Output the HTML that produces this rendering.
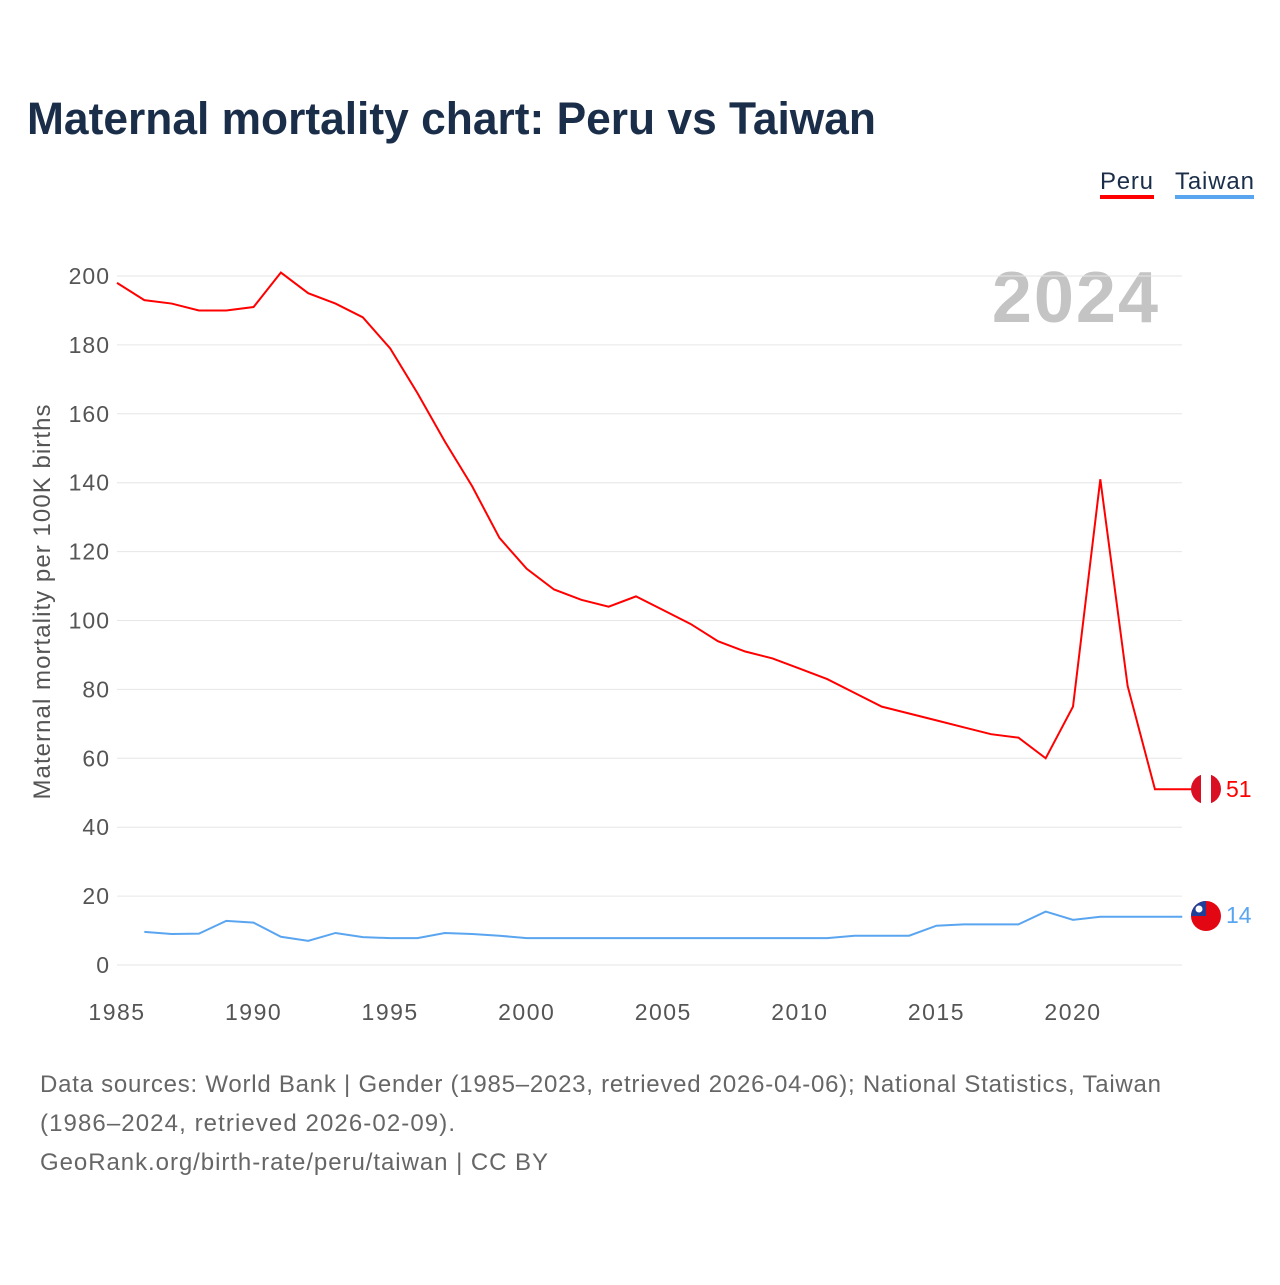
<!DOCTYPE html>
<html><head><meta charset="utf-8">
<style>
body{margin:0;background:#fff;font-family:"Liberation Sans",sans-serif;}
svg text{font-family:"Liberation Sans",sans-serif;}
</style></head>
<body>
<svg id="chart" width="1280" height="1280" xmlns="http://www.w3.org/2000/svg">
<text x="27" y="134" font-size="45" font-weight="bold" fill="#1a2e4a" textLength="849" lengthAdjust="spacingAndGlyphs">Maternal mortality chart: Peru vs Taiwan</text>
<g>
<text x="1100" y="189" font-size="24" fill="#1a2e4a" textLength="53">Peru</text>
<rect x="1100" y="195" width="54" height="4" fill="#ff0000"/>
<text x="1175" y="189" font-size="24" fill="#1a2e4a" textLength="79">Taiwan</text>
<rect x="1175" y="195" width="79" height="4" fill="#5aa5f0"/>
</g>
<text x="1160" y="322" font-size="72" font-weight="bold" fill="#c4c4c4" text-anchor="end" letter-spacing="2">2024</text>
<g id="grid"></g><g id="series"></g>
<text transform="translate(50,602) rotate(-90)" font-size="24" fill="#555" text-anchor="middle" textLength="395">Maternal mortality per 100K births</text>
<g>
<circle cx="1206" cy="789" r="15" fill="#d91023"/>
<rect x="1201" y="774" width="10" height="30" fill="#fff"/>
<text x="1226" y="797" font-size="23" fill="#ff0000">51</text>
</g>
<g>
<clipPath id="tc"><circle cx="1206" cy="916" r="15"/></clipPath>
<g clip-path="url(#tc)"><rect x="1190" y="900" width="32" height="32" fill="#e30613"/><rect x="1190" y="900" width="16" height="16" fill="#1f3f99"/><circle cx="1199" cy="909" r="3.5" fill="#fff"/></g>
<text x="1226" y="923" font-size="23" fill="#5aa5f0">14</text>
</g>
<text font-size="24" fill="#666">
<tspan x="40" y="1092" textLength="1121">Data sources: World Bank | Gender (1985–2023, retrieved 2026-04-06); National Statistics, Taiwan</tspan>
<tspan x="40" y="1131" textLength="415">(1986–2024, retrieved 2026-02-09).</tspan>
<tspan x="40" y="1170" textLength="508">GeoRank.org/birth-rate/peru/taiwan | CC BY</tspan>
</text>
</svg>
<script>
const yTicks=[0,20,40,60,80,100,120,140,160,180,200];
const xTicks=[1985,1990,1995,2000,2005,2010,2015,2020];
const peruYears=[1985,1986,1987,1988,1989,1990,1991,1992,1993,1994,1995,1996,1997,1998,1999,2000,2001,2002,2003,2004,2005,2006,2007,2008,2009,2010,2011,2012,2013,2014,2015,2016,2017,2018,2019,2020,2021,2022,2023];
const peruValues=[198,193,192,190,190,191,201,195,192,188,179,166,152,139,124,115,109,106,104,107,103,99,94,91,89,86,83,79,75,73,71,69,67,66,60,75,141,81,51];
const taiwanYears=[1986,1987,1988,1989,1990,1991,1992,1993,1994,1995,1996,1997,1998,1999,2000,2001,2002,2003,2004,2005,2006,2007,2008,2009,2010,2011,2012,2013,2014,2015,2016,2017,2018,2019,2020,2021,2022,2023,2024];
const taiwanValues=[9.6,9,9.1,12.8,12.3,8.2,7,9.3,8.1,7.8,7.8,9.3,9,8.5,7.8,7.8,7.8,7.8,7.8,7.8,7.8,7.8,7.8,7.8,7.8,7.8,8.5,8.5,8.5,11.4,11.8,11.8,11.8,15.5,13.1,14,14,14,14];
const NS="http://www.w3.org/2000/svg";
const x=yr=>117+(yr-1985)*(1073-117)/35;
const y=v=>965-v*(965-276)/200;
const grid=document.getElementById('grid'),series=document.getElementById('series');
function mk(tag,attrs,parent){const e=document.createElementNS(NS,tag);for(const k in attrs)e.setAttribute(k,attrs[k]);parent.appendChild(e);return e;}
yTicks.forEach(t=>{
 const l=mk('line',{x1:117,x2:1182,y1:y(t),y2:y(t),stroke:'#e6e6e6','stroke-width':1},grid);
 
 
 const tx=mk('text',{x:110,y:y(t)+8,'font-size':23,fill:'#555','text-anchor':'end','letter-spacing':1},grid);
 tx.textContent=t;
 
 
});
xTicks.forEach(t=>{
 const tx=mk('text',{x:x(t),y:1020,'font-size':23,fill:'#555','text-anchor':'middle','letter-spacing':1.5},grid);
 tx.textContent=t;
 
 
});
function pts(ys,vs){return ys.map((yr,i)=>x(yr)+','+y(vs[i])).join(' ');}
const pe=mk('polyline',{points:pts(peruYears,peruValues)+' '+x(2024)+','+y(peruValues[peruValues.length-1])+' 1195,'+y(peruValues[peruValues.length-1]),fill:'none',stroke:'#ff0000','stroke-width':2},series);


const tw=mk('polyline',{points:pts(taiwanYears,taiwanValues),fill:'none',stroke:'#5aa5f0','stroke-width':2},series);


</script>
</body></html>
